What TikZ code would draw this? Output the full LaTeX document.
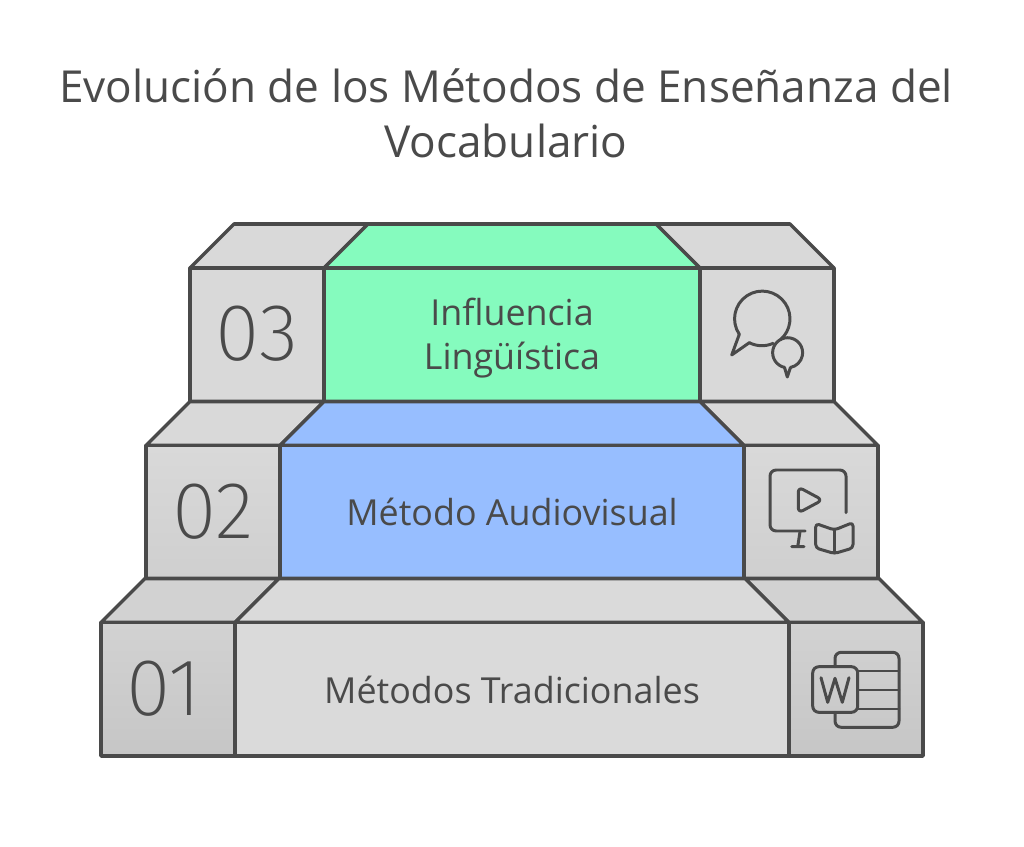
\documentclass[tikz,border=0pt]{standalone}
\usepackage{fontspec}
\setmainfont{Open Sans}
\newfontfamily\numfont{Fira Sans ExtraLight}
\definecolor{inkgray}{HTML}{4A4A4A}
\definecolor{facegreen}{HTML}{85FBBE}
\definecolor{faceblue}{HTML}{97BEFF}
\definecolor{facegray}{HTML}{DADADA}
\tikzset{
  face/.style={draw=inkgray,line width=2pt,line join=round},
  icon/.style={draw=inkgray,line width=1.7pt,line cap=round,line join=round},
  titletext/.style={text=inkgray,font=\fontsize{25.1}{31.3}\selectfont,align=center},
  steptext/.style={text=inkgray,font=\fontsize{20.4}{25}\selectfont,align=center},
  numtext/.style={text=inkgray,font=\fontsize{46}{46}\numfont}
}
\begin{document}
\begin{tikzpicture}[x=0.02cm,y=-0.02cm]
  \useasboundingbox (0,0) rectangle (1024,847);
  \foreach \xa/\ya/\sa/\sb/\mid in {
    190/401.5/D9D9D9/D9D9D9/facegreen,
    146/579/D9D9D9/CFCFCF/faceblue,
    101/756/D2D2D2/C6C6C6/facegray}
  {
    \pgfmathsetmacro{\xb}{\xa+134}
    \pgfmathsetmacro{\xd}{1024-\xa}
    \pgfmathsetmacro{\xc}{\xd-134}
    \pgfmathsetmacro{\yb}{\ya-133.5}
    \pgfmathsetmacro{\yc}{\yb-44}
    \definecolor{sidea}{HTML}{\sa}
    \definecolor{sideb}{HTML}{\sb}
    \draw [face,top color=sidea,bottom color=sidea] (\xa,\yb) -- (\xa+44,\yc) -- (\xb+44,\yc) -- (\xb,\yb) -- cycle;
    \draw [face,top color=sidea,bottom color=sidea] (\xd,\yb) -- (\xd-44,\yc) -- (\xc-44,\yc) -- (\xc,\yb) -- cycle;
    \draw [face,fill=\mid] (\xb,\yb) -- (\xb+44,\yc) -- (\xc-44,\yc) -- (\xc,\yb) -- cycle;
    \draw [face,top color=sidea,bottom color=sideb] (\xa,\yb) rectangle (\xb,\ya);
    \draw [face,top color=sidea,bottom color=sideb] (\xc,\yb) rectangle (\xd,\ya);
    \draw [face,fill=\mid] (\xb,\yb) rectangle (\xc,\ya);
  }

  \node [titletext] (title) at (506,113) {Evolución de los Métodos de Enseñanza del\\Vocabulario};
  \node [steptext] (influencia) at (512,338) {Influencia\\Lingüística};
  \node [steptext] (audiovisual) at (512,512) {Método Audiovisual};
  \node [steptext] (tradicionales) at (512,690) {Métodos Tradicionales};
  \node [numtext] (num3) at (257,334) {03};
  \node [numtext] (num2) at (213,512) {02};
  \node [numtext] (num1) at (164,689) {01};

  % speech bubbles
  \draw [icon] (739.3,334.3) arc (-214:49:27.7);
  \draw [icon] (749.3,342.7) arc (-243:-294:27.7);
  \draw [icon] (739.3,334.3) -- (731.7,355) -- (749.3,342.7);
  \draw [icon] (784.5,367.4) arc (-258:78:15);
  \draw [icon] (784.5,367.4) -- (787.3,377) -- (790.5,367.4);

  % screen and book
  \draw [icon,rounded corners=3.5] (846,512.7) -- (846,470) -- (770,470) -- (770,531) -- (805,531);
  \draw [icon] (800,531.7) -- (797.7,546.7) (791.7,546.7) -- (804,546.7);
  \draw [icon,rounded corners=3] (798.3,487) -- (798.3,513) -- (822.5,500) -- cycle;
  \draw [icon,rounded corners=2] (834.4,530) -- (815.7,523.5) -- (815.7,548) -- (834.4,553.5) -- (853,548) -- (853,522.5) -- cycle;
  \draw [icon] (834.4,530) -- (834.4,553);

  % word document
  \draw [icon,rounded corners=3.5] (835,666.7) -- (835,652.3) -- (899,652.3) -- (899,727.3) -- (835,727.3) -- (835,712.3);
  \draw [icon,rounded corners=3.5] (812.7,666.7) rectangle (857.7,712.3);
  \draw [icon] (857.7,671) -- (899,671) (857.7,690) -- (899,690) (857.7,709) -- (899,709);
  \draw [icon] (821,677.7) -- (827.7,702.3) -- (835,678.3) -- (842.3,702.3) -- (849,677.7);
\end{tikzpicture}
\end{document}
